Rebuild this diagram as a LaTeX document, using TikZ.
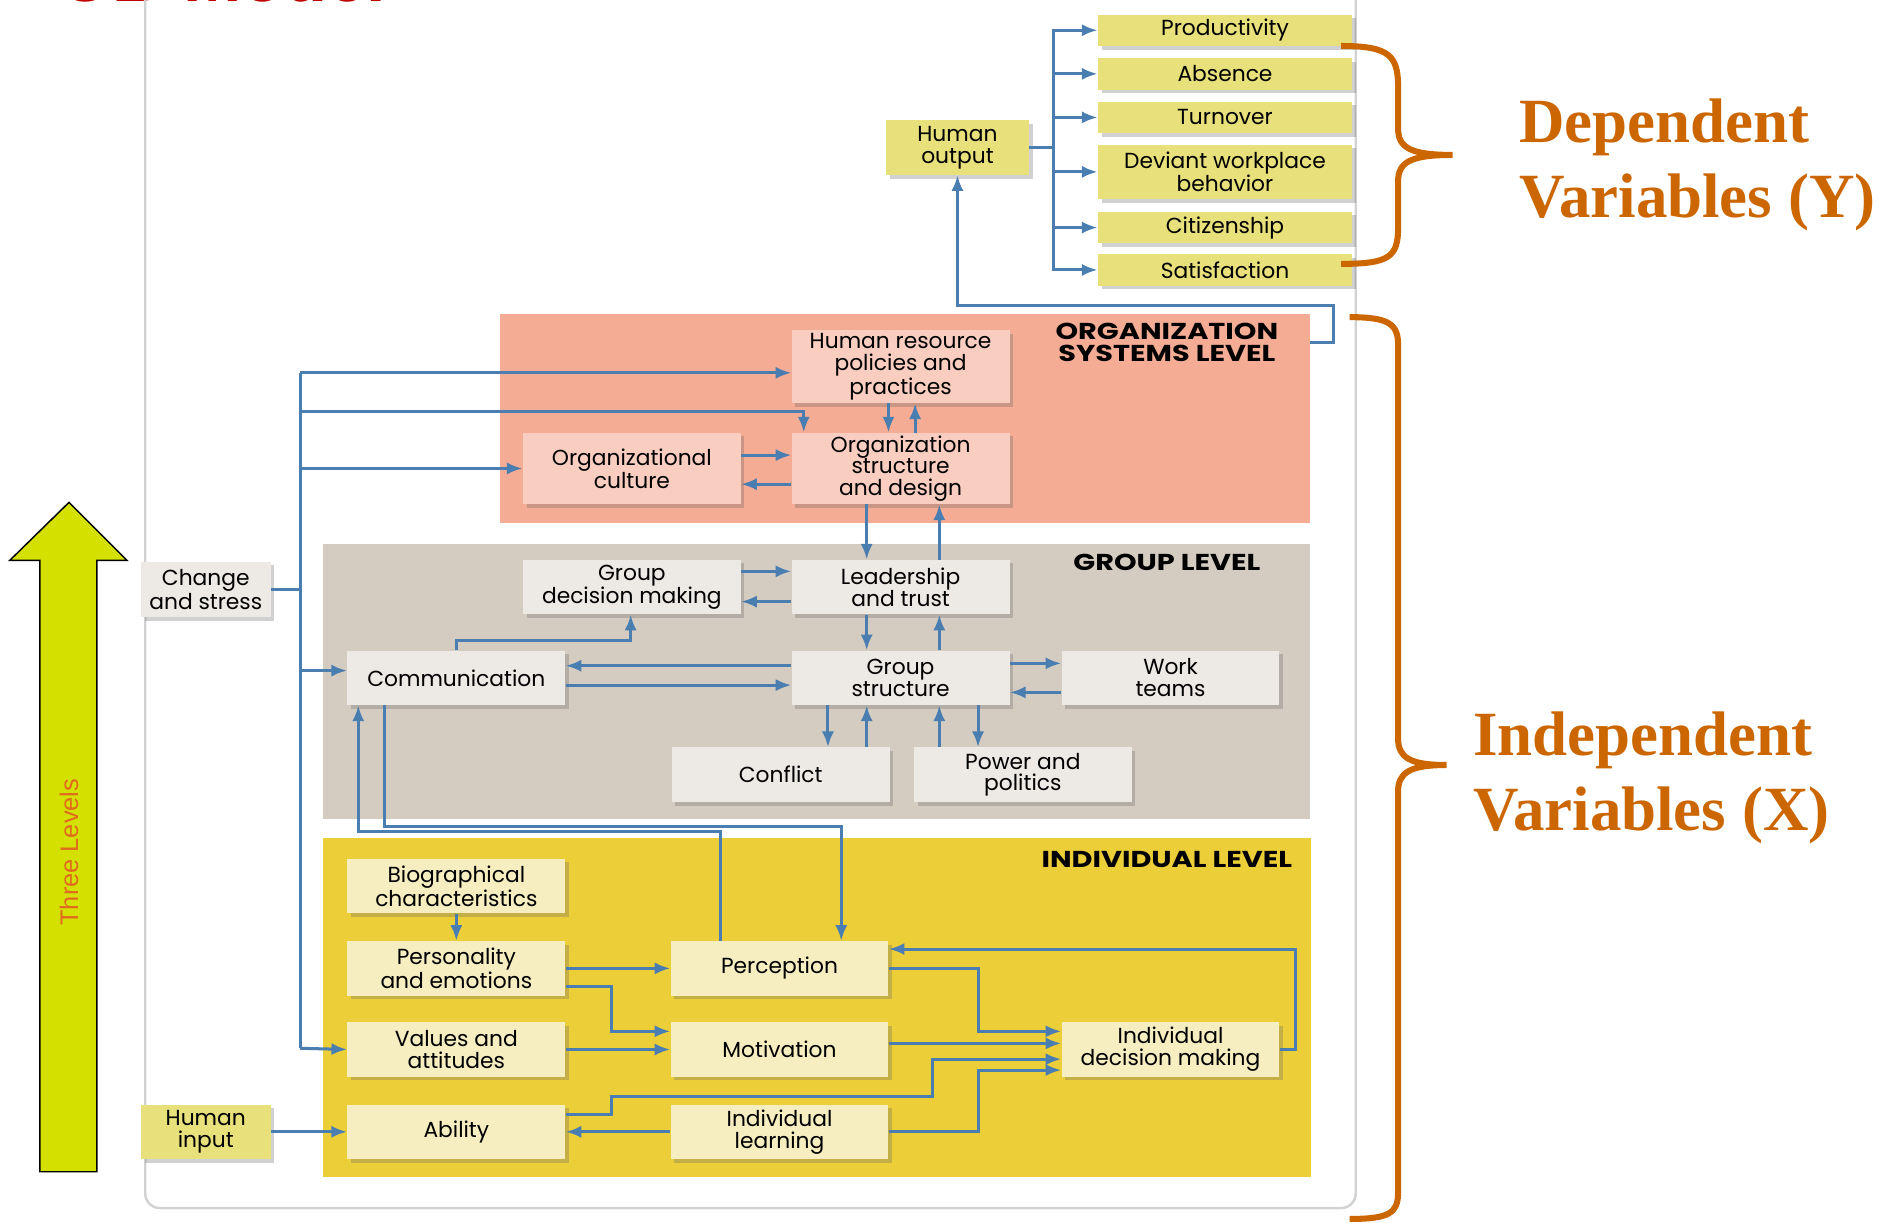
\documentclass[tikz,border=0pt]{standalone}
\usepackage{fontspec}
\setmainfont{Liberation Serif}
\newfontfamily\boxfont{Poppins}
\newfontfamily\lvlfont[FakeStretch=1.25]{Poppins}
\newfontfamily\arialfont{Liberation Sans}
\usetikzlibrary{calc}
\usetikzlibrary{arrows.meta}
\usetikzlibrary{shadows}

\definecolor{obblue}{HTML}{4A7DB0}
\definecolor{orgbg}{HTML}{F5AC95}
\definecolor{orgbox}{HTML}{F9CDBF}
\definecolor{grpbg}{HTML}{D5CCC1}
\definecolor{grpbox}{HTML}{EDE9E5}
\definecolor{indbg}{HTML}{ECCF38}
\definecolor{indbox}{HTML}{F6EEC0}
\definecolor{outbox}{HTML}{E7E07B}
\definecolor{bracecol}{HTML}{CC6600}
\definecolor{lvlarrow}{HTML}{D4E000}
\definecolor{lvltext}{HTML}{E06B1C}
\definecolor{titlered}{HTML}{C00000}

\begin{document}
\begin{tikzpicture}[x=1pt, y=-1pt,
  box/.style={inner sep=0pt, minimum width=180pt, minimum height=45pt, align=center,
    font=\boxfont\fontsize{18}{18}\selectfont,
    drop shadow={shadow xshift=3pt, shadow yshift=-3pt, opacity=.3, fill=black!60}},
  obox/.style={box, fill=orgbox},
  gbox/.style={box, fill=grpbox},
  ibox/.style={box, fill=indbox},
  ybox/.style={box, fill=outbox},
  region/.style={anchor=north west, inner sep=0pt},
  lvl/.style={align=center, font=\lvlfont\bfseries\fontsize{19}{18}\selectfont},
  ln/.style={obblue, line width=2.5pt},
  arr/.style={ln, -{Latex[length=13pt,width=10pt]}},
  bigtext/.style={anchor=base west, text=bracecol, inner sep=0pt, font=\bfseries\fontsize{52}{62}\selectfont},
  curly/.style={bracecol, line width=5pt}]
\useasboundingbox (0,0) rectangle (1568,1010);

\node[anchor=base west, inner sep=0pt, text=titlered, font=\arialfont\bfseries\fontsize{58}{60}\selectfont] (title) at (48,1) {OB Model};
\draw[gray!35, line width=2pt, rounded corners=12pt] (120,-30) rectangle (1120,998);

% levels
\node[region, fill=orgbg, minimum width=669pt, minimum height=173pt] (orgsys) at (413,259) {};
\node[region, fill=grpbg, minimum width=815pt, minimum height=227pt] (grp) at (267,449) {};
\node[region, fill=indbg, minimum width=816pt, minimum height=280pt] (ind) at (267,692) {};
\node[lvl] (orglab) at (964,283) {ORGANIZATION\\SYSTEMS LEVEL};
\node[lvl] (grplab) at (964,465) {GROUP LEVEL};
\node[lvl] (indlab) at (964,710) {INDIVIDUAL LEVEL};

% outputs
\foreach \n/\y/\t in {prod/25/Productivity, abs/61/Absence, turn/97/Turnover, cit/188/Citizenship, sat/223/Satisfaction}
\node[ybox, minimum width=210pt, minimum height=26pt] (\n) at (1012,\y) {\t};
\node[ybox, minimum width=210pt] (dev) at (1012,142) {Deviant workplace\\behavior};
\node[ybox, minimum width=118pt] (hout) at (791,122) {Human\\output};

\node[gbox, minimum width=107pt, minimum height=46pt] (chg) at (170,487) {Change\\and stress};
\node[ybox, minimum width=107pt] (hin) at (170,935) {Human\\input};

\node[obox, minimum height=60pt] (hr) at (744,303) {Human resource\\policies and\\practices};
\node[obox, minimum height=59pt] (cult) at (522,387) {Organizational\\culture};
\node[obox, minimum height=59pt] (ostr) at (744,387) {Organization\\structure\\and design};

\node[gbox] (gdm) at (522,485) {Group\\decision making};
\node[gbox] (lead) at (744,485) {Leadership\\and trust};
\node[gbox] (comm) at (377,560) {Communication};
\node[gbox] (gs) at (744,560) {Group\\structure};
\node[gbox] (wt) at (967,560) {Work\\teams};
\node[gbox] (conf) at (645,640) {Conflict};
\node[gbox] (pp) at (845,640) {Power and\\politics};

\node[ibox] (bio) at (377,732) {Biographical\\characteristics};
\node[ibox] (pers) at (377,800) {Personality\\and emotions};
\node[ibox] (val) at (377,867) {Values and\\attitudes};
\node[ibox] (abil) at (377,935) {Ability};
\node[ibox] (perc) at (644,800) {Perception};
\node[ibox] (mot) at (644,867) {Motivation};
\node[ibox] (il) at (644,935) {Individual\\learning};
\node[ibox] (idm) at (967,867) {Individual\\decision making};

% dependent side
\coordinate (otrunk) at (870,122);
\draw[ln] (hout.east) -- (otrunk);
\foreach \n in {prod,abs,turn,dev,cit,sat}
\draw[arr] (otrunk) |- (\n.west);
\draw[arr] ([yshift=-24pt]orgsys.north east) -- ++(19,0) -- ++(0,-31) -| (hout.south);

% left trunk
\coordinate (ltop) at (248,308);
\coordinate (lbot) at (248,866);
\draw[ln] (ltop) -- (lbot);
\draw[ln] (chg.east) -- (chg.east -| ltop);
\draw[arr] (ltop) -- ([yshift=-5pt]hr.west);
\draw[arr] ($(ltop)+(0,32)$) -| ([xshift=-80pt]ostr.north);
\draw[arr] (ltop |- cult.west) -- (cult.west);
\draw[arr] (ltop |- 0,554) -- ([yshift=6pt]comm.west);
\draw[arr] (lbot) -- (val.west);

% organization level
\draw[arr] ([yshift=11pt]cult.east) -- ([yshift=11pt]ostr.west);
\draw[arr] ([yshift=-13pt]ostr.west) -- ([yshift=-13pt]cult.east);
\draw[arr] ([xshift=-10pt]hr.south) -- ([xshift=-10pt]ostr.north);
\draw[arr] ([xshift=12pt]ostr.north) -- ([xshift=12pt]hr.south);
\draw[arr] ([xshift=-28pt]ostr.south) -- ([xshift=-28pt]lead.north);
\draw[arr] ([xshift=32pt]lead.north) -- ([xshift=32pt]ostr.south);

% group level
\draw[arr] ([yshift=13pt]gdm.east) -- ([yshift=13pt]lead.west);
\draw[arr] ([yshift=-12pt]lead.west) -- ([yshift=-12pt]gdm.east);
\draw[arr] ([xshift=-28pt]lead.south) -- ([xshift=-28pt]gs.north);
\draw[arr] ([xshift=32pt]gs.north) -- ([xshift=32pt]lead.south);
\draw[arr] (comm.north) -- ++(0,-8) -| ([xshift=-1pt]gdm.south);
\draw[arr] ([yshift=10pt]gs.west) -- ([yshift=10pt]comm.east);
\draw[arr] ([yshift=-6pt]comm.east) -- ([yshift=-6pt]gs.west);
\draw[arr] ([yshift=12pt]gs.east) -- ([yshift=12pt]wt.west);
\draw[arr] ([yshift=-12pt]wt.west) -- ([yshift=-12pt]gs.east);
\draw[arr] ([xshift=-60pt]gs.south) -- ([xshift=-60pt]gs.south |- conf.north);
\draw[arr] ([xshift=-28pt]gs.south |- conf.north) -- ([xshift=-28pt]gs.south);
\draw[arr] ([xshift=32pt]gs.south |- pp.north) -- ([xshift=32pt]gs.south);
\draw[arr] ([xshift=64pt]gs.south) -- ([xshift=64pt]gs.south |- pp.north);
\draw[arr] ([xshift=-59pt]comm.south) -- ++(0,100) -| ([xshift=51pt]perc.north);
\draw[arr] ([xshift=-49pt]perc.north) -- ++(0,-90) -| ([xshift=-81pt]comm.south);

% individual level
\draw[arr] (bio.south) -- (pers.north);
\draw[arr] (pers.east) -- (perc.west);
\draw[arr] ([yshift=-15pt]pers.east) -- ++(38,0) |- ([yshift=15pt]mot.west);
\draw[arr] (val.east) -- (mot.west);
\draw[arr] ([yshift=14pt]abil.east) -- ++(38,0) -- ++(0,-15) -- ++(265,0) |- ([yshift=-8pt]idm.west);
\draw[arr] (il.west) -- (abil.east);
\draw[arr] (il.east) -- ++(74,0) |- ([yshift=-17pt]idm.west);
\draw[arr] (perc.east) -- ++(74,0) |- ([yshift=15pt]idm.west);
\draw[arr] ([yshift=5pt]mot.east) -- ([yshift=5pt]idm.west);
\draw[arr] (idm.east) -- ++(13,0) |- ([yshift=16pt]perc.east);
\draw[arr] (hin.east) -- (abil.west);

% three levels arrow
\draw[fill=lvlarrow, line width=1.2pt] (33,968) -- (33,463) -- (8,463) -- (57,415) -- (105,463) -- (80,463) -- (80,968) -- cycle;
\node[rotate=90, text=lvltext, font=\arialfont\fontsize{21}{24}\selectfont] (three) at (57,704) {Three Levels};

% braces
\draw[curly] (1108,38) .. controls (1148,38) and (1155,46) .. (1155,72) -- (1155,106) .. controls (1155,122) and (1165,128) .. (1200,128) .. controls (1165,128) and (1155,134) .. (1155,150) -- (1155,188) .. controls (1155,212) and (1148,218) .. (1108,218);
\draw[curly] (1115,262) .. controls (1148,262) and (1155,268) .. (1155,285) -- (1155,610) .. controls (1155,626) and (1165,632) .. (1195,632) .. controls (1165,632) and (1155,638) .. (1155,654) -- (1155,985) .. controls (1155,1002) and (1148,1007) .. (1115,1007);
\node[bigtext] (dep1) at (1255,118) {Dependent};
\node[bigtext] (dep2) at (1255,180) {Variables (Y)};
\node[bigtext] (ind1) at (1217,624) {Independent};
\node[bigtext] (ind2) at (1217,686) {Variables (X)};
\end{tikzpicture}
\end{document}
